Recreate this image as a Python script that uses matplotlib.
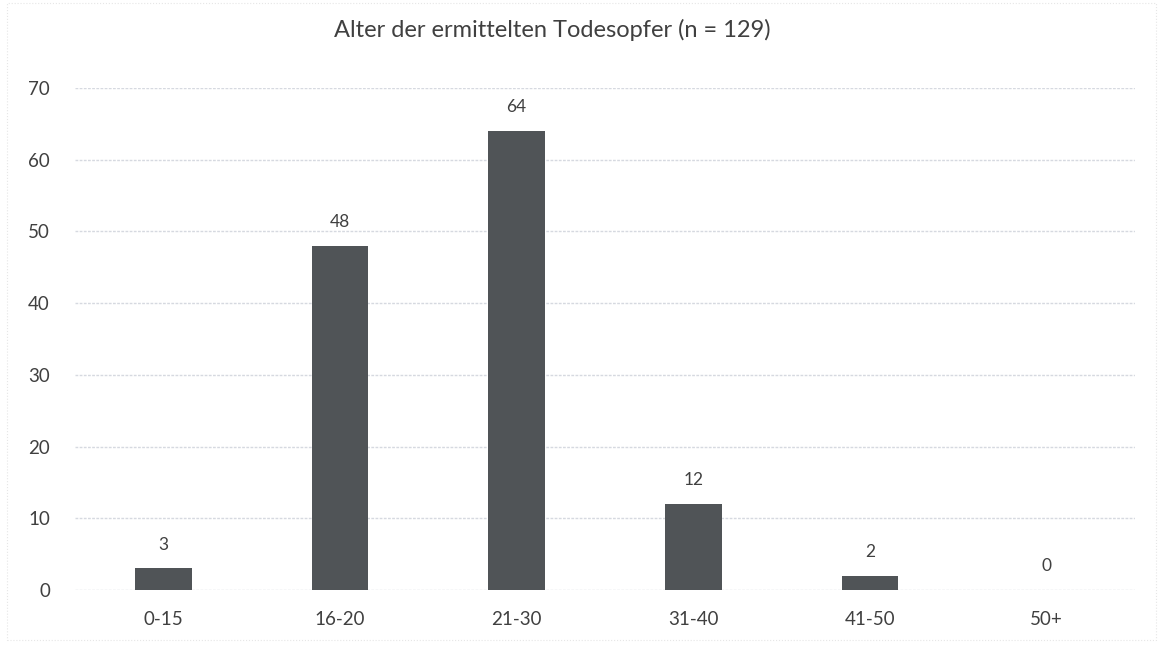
import matplotlib.pyplot as plt
import matplotlib.patches as patches

categories = ["0-15", "16-20", "21-30", "31-40", "41-50", "50+"]
values = [3, 48, 64, 12, 2, 0]
title = "Alter der ermittelten Todesopfer (n = 129)"

plt.rcParams['font.family'] = ['Lato', 'DejaVu Sans']

fig = plt.figure(figsize=(11.61, 6.46), dpi=100)
ax = fig.add_axes([0.0646, 0.0867, 0.913, 0.7771])

x = range(len(categories))
bars = ax.bar(x, values, width=0.32, color="#505457", zorder=3)
for xi, v in zip(x, values):
    ax.text(xi, v + 2.2, str(v), ha="center", va="bottom", fontsize=12.5, color="#404040")

ax.set_xlim(-0.5, 5.5)
ax.set_ylim(0, 70)
ax.set_yticks(range(0, 71, 10))
ax.set_xticks(list(x))
ax.set_xticklabels(categories)
ax.tick_params(axis="both", length=0, labelsize=13.5, labelcolor="#404040")
ax.tick_params(axis="y", pad=18)
ax.tick_params(axis="x", pad=15)
ax.grid(axis="y", color="#d6d9e0", linewidth=1, linestyle=(0, (2, 1)), zorder=0)
for s in ax.spines.values():
    s.set_visible(False)

fig.text(0.476, 0.953, title, ha="center", va="center", fontsize=17, color="#404040")

fig.patches.append(patches.Rectangle((0.006, 0.01), 0.99, 0.985, transform=fig.transFigure,
                                     fill=False, edgecolor="#e6e6e6", linewidth=0.8, linestyle=":"))

fig.savefig("out.png", dpi=100)
